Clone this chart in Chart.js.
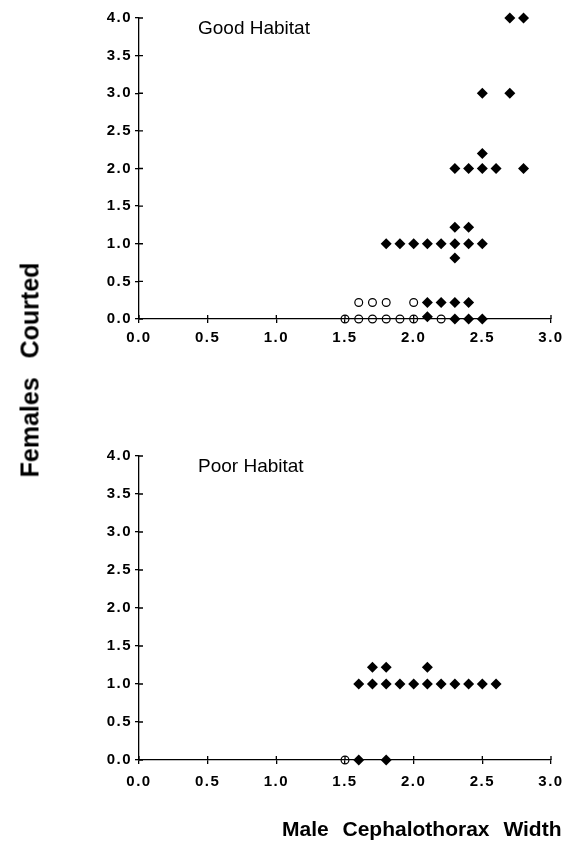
<!DOCTYPE html>
<html>
<head>
<meta charset="utf-8">
<script src="https://cdn.jsdelivr.net/npm/chart.js"></script>
<style>
body { margin: 0; background: #fff; }
#wrap { position: relative; width: 571px; height: 845px; font-family: "Liberation Sans", Arial, sans-serif; color: #000; }
canvas { position: absolute; left: 0; }
#goodChart { top: 0; }
#poorChart { top: 430px; }
.ytitle { position: absolute; left: 30px; top: 370px; transform: translate(-50%, -50%) rotate(-90deg); font-weight: bold; font-size: 25px; word-spacing: 12px; white-space: nowrap; }
.xtitle { position: absolute; left: 282px; top: 817px; font-weight: bold; font-size: 21px; word-spacing: 8px; white-space: nowrap; }
</style>
</head>
<body>
<div id="wrap">
    <canvas id="goodChart" width="571" height="360"></canvas>
    <canvas id="poorChart" width="571" height="400"></canvas>
    <div class="ytitle">Females Courted</div>
    <div class="xtitle">Male Cephalothorax Width</div>
</div>
<script>
// good habitat, filled diamonds
var goodFilledX = [2.7, 2.8, 2.5, 2.7, 2.5, 2.3, 2.4, 2.5, 2.6, 2.8, 2.3, 2.4, 1.8, 1.9, 2.0, 2.1, 2.2, 2.3, 2.4, 2.5, 2.3, 2.1, 2.2, 2.3, 2.4, 2.1, 2.3, 2.4, 2.5];
var goodFilledY = [4, 4, 3, 3, 2.2, 2, 2, 2, 2, 2, 1.22, 1.22, 1, 1, 1, 1, 1, 1, 1, 1, 0.81, 0.22, 0.22, 0.22, 0.22, 0.03, 0, 0, 0];
// good habitat, open circles
var goodOpenX = [1.6, 1.7, 1.8, 2.0, 1.5, 1.6, 1.7, 1.8, 1.9, 2.0, 2.2];
var goodOpenY = [0.22, 0.22, 0.22, 0.22, 0, 0, 0, 0, 0, 0, 0];
// poor habitat
var poorFilledX = [1.7, 1.8, 2.1, 1.6, 1.7, 1.8, 1.9, 2.0, 2.1, 2.2, 2.3, 2.4, 2.5, 2.6, 1.6, 1.8];
var poorFilledY = [1.22, 1.22, 1.22, 1, 1, 1, 1, 1, 1, 1, 1, 1, 1, 1, 0, 0];
var poorOpenX = [1.5];
var poorOpenY = [0];

var fontFam = '"Liberation Sans", Arial, sans-serif';

function toPoints(xs, ys) {
    var pts = [];
    for (var i = 0; i < xs.length; i++) {
        pts.push({ x: xs[i], y: ys[i] });
    }
    return pts;
}

// ticks that cross the axis lines, plus the habitat label
var crossTicks = {
    id: 'crossTicks',
    beforeDraw: function (chart) {
        chart.ctx.letterSpacing = '1.5px';
    },
    beforeDatasetsDraw: function (chart) {
        var ctx = chart.ctx, a = chart.chartArea;
        var xs = chart.scales.x, ys = chart.scales.y;
        ctx.save();
        ctx.strokeStyle = '#000';
        ctx.lineWidth = 1.3;
        ctx.beginPath();
        xs.ticks.forEach(function (t) {
            var px = xs.getPixelForValue(t.value);
            ctx.moveTo(px, a.bottom - 4);
            ctx.lineTo(px, a.bottom);
        });
        ys.ticks.forEach(function (t) {
            var py = ys.getPixelForValue(t.value);
            ctx.moveTo(a.left, py);
            ctx.lineTo(a.left + 4, py);
        });
        ctx.stroke();
        ctx.letterSpacing = '0px';
        ctx.font = '19px ' + fontFam;
        ctx.fillStyle = '#000';
        ctx.textBaseline = 'middle';
        ctx.fillText(chart.options.plugins.crossTicks.label, a.left + 59, a.top + 11);
        ctx.restore();
    }
};

function makeChart(id, label, filledX, filledY, openX, openY, topPad, xHeight, xPad) {
    return new Chart(document.getElementById(id), {
        type: 'scatter',
        data: {
            datasets: [{
                data: toPoints(filledX, filledY),
                pointStyle: 'rectRot',
                pointRadius: 5.5,
                pointBackgroundColor: '#000',
                pointBorderColor: '#000',
                pointBorderWidth: 0,
                clip: false
            }, {
                data: toPoints(openX, openY),
                pointStyle: 'circle',
                pointRadius: 3.9,
                pointBackgroundColor: 'rgba(0,0,0,0)',
                pointBorderColor: '#000',
                pointBorderWidth: 1.2,
                clip: false
            }]
        },
        options: {
            responsive: false,
            maintainAspectRatio: false,
            animation: false,
            devicePixelRatio: 1,
            layout: { padding: { top: topPad, right: 20, left: 0, bottom: 0 } },
            plugins: {
                legend: { display: false },
                tooltip: { enabled: false },
                crossTicks: { label: label }
            },
            scales: {
                x: {
                    type: 'linear',
                    min: 0,
                    max: 3,
                    afterFit: function (s) { s.height = xHeight; },
                    ticks: {
                        stepSize: 0.5,
                        maxRotation: 0,
                        padding: xPad,
                        color: '#000',
                        font: { family: fontFam, size: 15, weight: 'bold' },
                        callback: function (v) { return v.toFixed(1); }
                    },
                    grid: { drawOnChartArea: false, color: '#000', lineWidth: 1.3, tickLength: 4 },
                    border: { color: '#000', width: 1.3 }
                },
                y: {
                    min: 0,
                    max: 4,
                    afterFit: function (s) { s.width = 139; },
                    ticks: {
                        stepSize: 0.5,
                        padding: 3,
                        color: '#000',
                        font: { family: fontFam, size: 15, weight: 'bold' },
                        callback: function (v) { return v.toFixed(1); }
                    },
                    grid: { drawOnChartArea: false, color: '#000', lineWidth: 1.3, tickLength: 4 },
                    border: { color: '#000', width: 1.3 }
                }
            }
        },
        plugins: [crossTicks]
    });
}

makeChart('goodChart', 'Good Habitat', goodFilledX, goodFilledY, goodOpenX, goodOpenY, 18, 41, 6);
makeChart('poorChart', 'Poor Habitat', poorFilledX, poorFilledY, poorOpenX, poorOpenY, 26, 70, 9);
</script>
</body>
</html>
